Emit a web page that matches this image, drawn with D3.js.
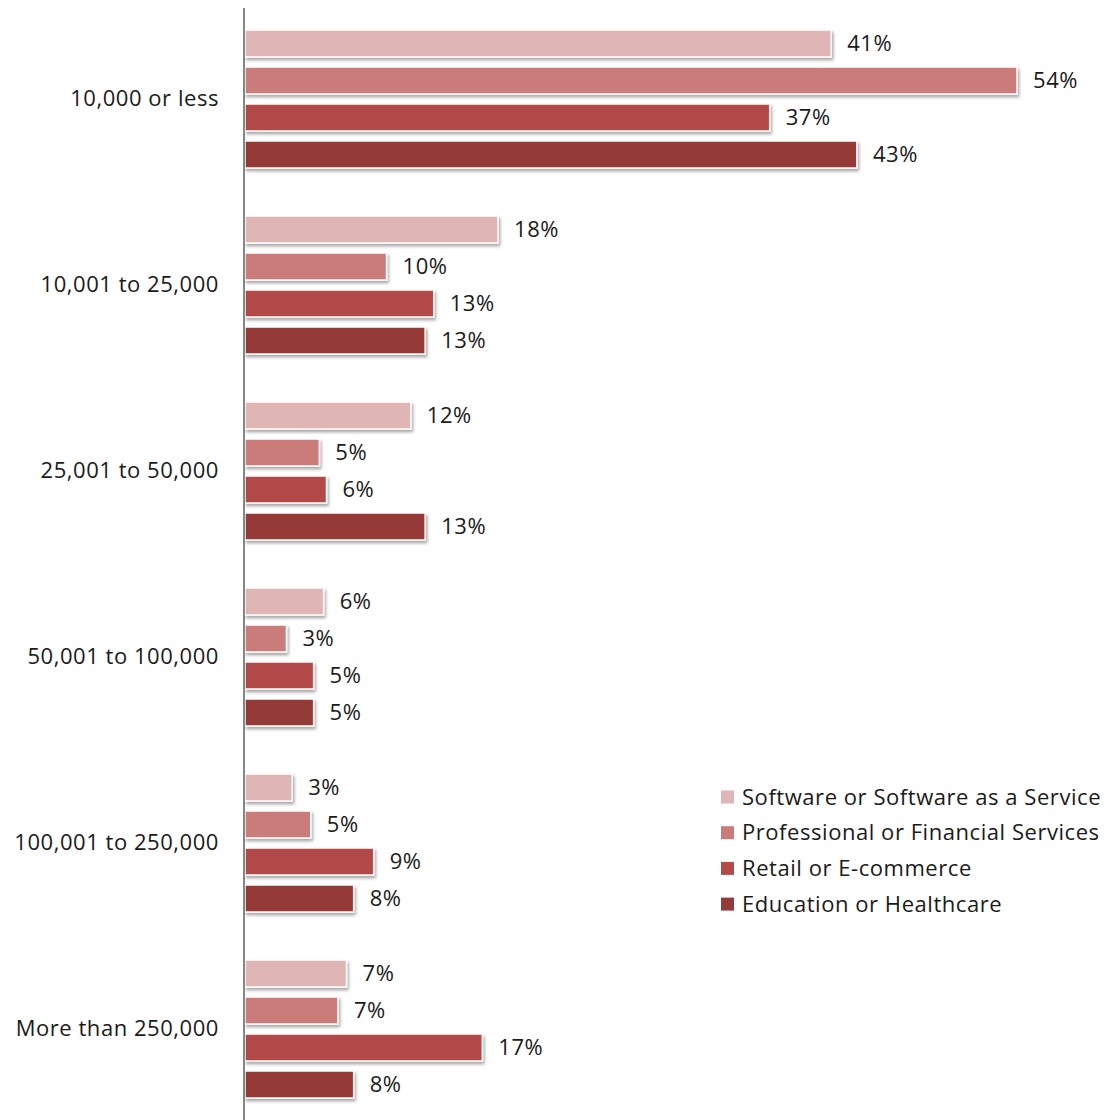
<!DOCTYPE html>
<html>
<head>
<meta charset="utf-8">
<script src="https://cdn.jsdelivr.net/npm/d3@7"></script>
<style>
  body { margin: 0; background: #fff; }
  text { font-family: "Open Sans", "Noto Sans", sans-serif; fill: #1a1a1a; letter-spacing: 0.55px; }
</style>
</head>
<body>
<script>
// Chart data
var categories = ["10,000 or less", "10,001 to 25,000", "25,001 to 50,000",
  "50,001 to 100,000", "100,001 to 250,000", "More than 250,000"];
var seriesNames = ["Software or Software as a Service", "Professional or Financial Services",
  "Retail or E-commerce", "Education or Healthcare"];
var software     = [41.0, 17.7, 11.6, 5.5, 3.3, 7.1];
var professional = [54.0, 9.9, 5.2, 2.9, 4.6, 6.5];
var retail       = [36.7, 13.2, 5.7, 4.8, 9.0, 16.6];
var education    = [42.8, 12.6, 12.6, 4.8, 7.6, 7.6];
var seriesColors = ["#dfb5b5", "#ca7b7a", "#b24a48", "#943a39"];

var allSeries = [software, professional, retail, education];

var w = 1109;
var h = 1120;
var fontSize = "22px";

var svg = d3.select("body")
  .append("svg")
  .attr("width", w)
  .attr("height", h);

// shadow under every bar
var defs = svg.append("defs");
var shadow = defs.append("filter")
  .attr("id", "shadow")
  .attr("x", "-5%").attr("y", "-20%")
  .attr("width", "115%").attr("height", "160%");
shadow.append("feDropShadow")
  .attr("dx", 1.5).attr("dy", 2.5)
  .attr("stdDeviation", 1.5)
  .attr("flood-color", "#000")
  .attr("flood-opacity", 0.35);

// Scales
var xScale = d3.scaleLinear()
  .domain([0, 54])
  .range([245, 1017]);

var y0 = d3.scaleBand()
  .domain(categories)
  .range([6, 6 + 186 * categories.length]);

var y1 = d3.scaleBand()
  .domain(seriesNames)
  .range([19, 167])
  .paddingInner(10 / 37)
  .paddingOuter(5 / 37);

// one row per bar
var rows = [];
categories.forEach(function(c, i) {
  seriesNames.forEach(function(s, j) {
    rows.push({ cat: c, series: s, value: allSeries[j][i], color: seriesColors[j] });
  });
});

var bars = svg.append("g");
bars.selectAll("rect")
  .data(rows)
  .enter()
  .append("rect")
  .attr("x", xScale(0))
  .attr("y", function(d) { return y0(d.cat) + y1(d.series); })
  .attr("width", function(d) { return xScale(d.value) - xScale(0); })
  .attr("height", y1.bandwidth())
  .attr("fill", function(d) { return d.color; })
  .attr("stroke", "#fff")
  .attr("stroke-width", 1.5)
  .attr("filter", "url(#shadow)");

// value labels
svg.append("g").selectAll("text")
  .data(rows)
  .enter()
  .append("text")
  .attr("x", function(d) { return xScale(d.value) + 16; })
  .attr("y", function(d) { return y0(d.cat) + y1(d.series) + y1.bandwidth() / 2; })
  .attr("dy", "0.35em")
  .style("font-size", fontSize)
  .text(function(d) { return Math.round(d.value) + "%"; });

// category axis
var yAxis = svg.append("g")
  .attr("transform", "translate(244,0)")
  .call(d3.axisLeft(y0).tickSize(0).tickPadding(25));
yAxis.select(".domain")
  .attr("stroke", "#868686")
  .attr("stroke-width", 2)
  .attr("d", "M0,8V1120");
yAxis.selectAll(".tick text")
  .style("font-size", fontSize)
  .style("font-family", "'Open Sans', 'Noto Sans', sans-serif")
  .attr("fill", "#1a1a1a");

// legend
var legend = svg.selectAll(".legend")
  .data(seriesNames)
  .enter()
  .append("g")
  .attr("class", "legend")
  .attr("transform", function(d, i) {
    return "translate(721," + (797 + i * 35.7) + ")";
  });

legend.append("rect")
  .attr("x", 0)
  .attr("y", -6.5)
  .attr("width", 13)
  .attr("height", 13)
  .attr("fill", function(d, i) { return seriesColors[i]; });

legend.append("text")
  .attr("x", 21)
  .attr("y", 0)
  .attr("dy", "0.35em")
  .style("font-size", fontSize)
  .text(function(d) { return d; });
</script>
</body>
</html>
